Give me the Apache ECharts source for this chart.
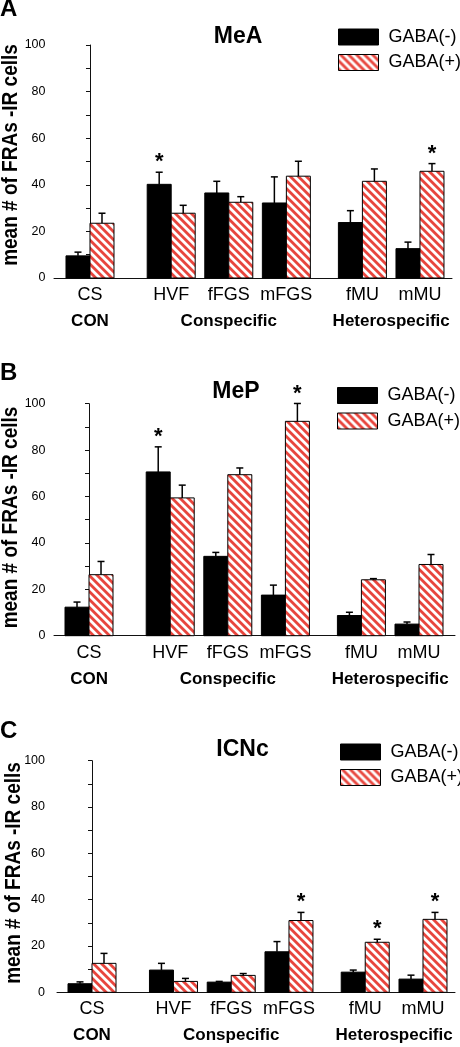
<!DOCTYPE html>
<html><head><meta charset="utf-8">
<script src="https://cdn.jsdelivr.net/npm/echarts@6/dist/echarts.min.js"></script>
<style>html,body{margin:0;padding:0;background:#fff}#c{width:460px;height:1047px}</style>
</head><body><div id="c"></div>
<script>
// ---------- data ----------
const categories = ['CS', 'HVF', 'fFGS', 'mFGS', 'fMU', 'mMU'];
const groupNames = ['CON', 'Conspecific', 'Heterospecific'];
const groupOf = [0, 1, 1, 1, 2, 2];
const seriesNames = ['GABA(-)', 'GABA(+)'];
const panelLetters = ['A', 'B', 'C'];
const panelTitles = ['MeA', 'MeP', 'ICNc'];
const yAxisTitle = 'mean # of FRAs -IR cells';
const yTickValues = [0, 20, 40, 60, 80, 100];

// Panel A: MeA
const meaNeg    = [9.5, 40.2, 36.5, 32.2, 23.8, 12.6];
const meaNegErr = [1.6, 5.2, 5.0, 11.2, 5.1, 2.8];
const meaPos    = [23.5, 27.8, 32.5, 43.7, 41.5, 45.8];
const meaPosErr = [4.3, 3.4, 2.4, 6.4, 5.3, 3.3];
const meaNegSig = [0, 1, 0, 0, 0, 0];
const meaPosSig = [0, 0, 0, 0, 0, 1];

// Panel B: MeP
const mepNeg    = [12.3, 70.6, 34.2, 17.5, 8.7, 5.0];
const mepNegErr = [2.2, 10.8, 1.7, 4.3, 1.4, 0.9];
const mepPos    = [26.3, 59.4, 69.4, 92.4, 24.1, 30.7];
const mepPosErr = [5.7, 5.5, 2.9, 7.7, 0.5, 4.3];
const mepNegSig = [0, 1, 0, 0, 0, 0];
const mepPosSig = [0, 0, 0, 1, 0, 0];

// Panel C: ICNc
const icnNeg    = [3.7, 9.6, 4.4, 17.5, 8.7, 5.7];
const icnNegErr = [0.8, 2.9, 0.3, 4.4, 0.9, 1.7];
const icnPos    = [12.5, 4.7, 7.3, 31.0, 21.6, 31.5];
const icnPosErr = [4.3, 1.3, 0.8, 3.5, 1.3, 3.0];
const icnNegSig = [0, 0, 0, 0, 0, 0];
const icnPosSig = [0, 0, 0, 1, 1, 1];

// ---------- layout ----------
const groupGap = [1.41, 1.32];
const FONT = "'Liberation Sans', Arial, sans-serif";
const RED = '#e8463e';
const panelLayout = [
  {left: 54, top: 45, width: 398, height: 233, xmin: -0.625, xmax: 6.286, labelMargin: 8.5,
   legendLeft: 338, legendTop: 28, titleX: 238, titleY: 36.3, letterY: 9, yTitleX: 10.5, yTitleY: 155},
  {left: 54, top: 403.7, width: 401, height: 232, xmin: -0.608, xmax: 6.355, labelMargin: 8.5,
   legendLeft: 337, legendTop: 386.5, titleX: 236, titleY: 391.7, letterY: 373.5, yTitleX: 10.5, yTitleY: 517.5},
  {left: 57, top: 760.7, width: 398, height: 231.6, xmin: -0.606, xmax: 6.284, labelMargin: 12,
   legendLeft: 340, legendTop: 743, titleX: 242.5, titleY: 750, letterY: 731, yTitleX: 13.5, yTitleY: 873}
];

const positions = [];
(function () {
  let x = 0;
  for (let i = 0; i < categories.length; i++) {
    if (i > 0) x += groupOf[i] !== groupOf[i - 1] ? groupGap[groupOf[i] - 1] : 1;
    positions.push(x);
  }
})();
const groupCenters = groupNames.map((g, gi) => {
  const p = positions.filter((_, i) => groupOf[i] === gi);
  return p.reduce((a, b) => a + b, 0) / p.length;
});
function lookup(vals, names, v) {
  for (let i = 0; i < vals.length; i++) if (Math.abs(vals[i] - v) < 1e-6) return names[i];
  return '';
}

// hatch pattern
function makeHatch() {
  const P = 8, S = 4;
  const c = document.createElement('canvas');
  c.width = P; c.height = P;
  const ctx = c.getContext('2d');
  const img = ctx.createImageData(P, P);
  const r = parseInt(RED.slice(1, 3), 16), g = parseInt(RED.slice(3, 5), 16), b = parseInt(RED.slice(5, 7), 16);
  for (let y = 0; y < P; y++) for (let x = 0; x < P; x++) {
    let cov = 0;
    for (let sy = 0; sy < S; sy++) for (let sx = 0; sx < S; sx++) {
      const px = x + (sx + 0.5) / S, py = y + (sy + 0.5) / S;
      const d = (((px - py) % P) + P) % P;
      if (d < P / 2) cov++;
    }
    cov /= S * S;
    const k = (y * P + x) * 4;
    img.data[k] = Math.round(255 + (r - 255) * cov);
    img.data[k + 1] = Math.round(255 + (g - 255) * cov);
    img.data[k + 2] = Math.round(255 + (b - 255) * cov);
    img.data[k + 3] = 255;
  }
  ctx.putImageData(img, 0, 0);
  return c;
}
const hatch = {image: makeHatch(), repeat: 'repeat'};

const BW = 24;
function makeRender(side, fill) {
  return function (params, api) {
    const x = api.value(0), v = api.value(1), e = api.value(2), sig = api.value(3);
    const base = api.coord([x, 0]);
    const top = api.coord([x, v]);
    const etop = api.coord([x, v + e]);
    const x0 = side < 0 ? base[0] - BW : base[0];
    const cx = x0 + BW / 2;
    const children = [
      {type: 'rect', shape: {x: x0, y: top[1], width: BW, height: base[1] - top[1]},
       style: {fill: fill, stroke: '#000', lineWidth: 1}},
      {type: 'line', shape: {x1: cx, y1: top[1], x2: cx, y2: etop[1]}, style: {stroke: '#000', lineWidth: 1.5}},
      {type: 'line', shape: {x1: cx - 3.5, y1: etop[1], x2: cx + 3.5, y2: etop[1]}, style: {stroke: '#000', lineWidth: 1.5}}
    ];
    if (sig) children.push({type: 'text', style: {text: '*', x: cx, y: etop[1] - 10, align: 'center', verticalAlign: 'middle',
      font: 'bold 22px ' + FONT, fill: '#000'}});
    return {type: 'group', children: children};
  };
}

const panels = [
  [meaNeg, meaNegErr, meaNegSig, meaPos, meaPosErr, meaPosSig],
  [mepNeg, mepNegErr, mepNegSig, mepPos, mepPosErr, mepPosSig],
  [icnNeg, icnNegErr, icnNegSig, icnPos, icnPosErr, icnPosSig]
];

const grid = [], xAxis = [], yAxis = [], series = [], legend = [], graphic = [];
panels.forEach((pd, p) => {
  const L = panelLayout[p];
  grid.push({left: L.left, top: L.top, width: L.width, height: L.height, containLabel: false, outerBoundsMode: 'none'});
  xAxis.push({
    type: 'value', gridIndex: p, min: L.xmin, max: L.xmax, position: 'bottom',
    axisLine: {show: true, onZero: false, lineStyle: {color: '#111', width: 1}},
    axisTick: {show: false}, splitLine: {show: false},
    axisLabel: {customValues: positions, formatter: v => lookup(positions, categories, v),
      fontSize: 18, fontFamily: FONT, color: '#000', margin: 8, showMinLabel: true, showMaxLabel: true}
  });
  xAxis.push({
    type: 'value', gridIndex: p, min: L.xmin, max: L.xmax, position: 'bottom',
    axisLine: {show: false}, axisTick: {show: false}, splitLine: {show: false},
    axisLabel: {customValues: groupCenters, formatter: v => lookup(groupCenters, groupNames, v),
      fontSize: 17, fontWeight: 'bold', fontFamily: FONT, color: '#000', margin: 35}
  });
  yAxis.push({
    type: 'value', gridIndex: p, min: 0, max: 100, interval: 10,
    axisLine: {show: true, lineStyle: {color: '#111', width: 1}},
    axisTick: {show: true, length: 4, lineStyle: {color: '#111'}},
    splitLine: {show: false},
    axisLabel: {formatter: v => (yTickValues.indexOf(v) >= 0 ? String(v) : ''), fontSize: 12.5, fontFamily: FONT, color: '#000', margin: L.labelMargin}
  });
  const mk = (vals, errs, sigs) => vals.map((v, i) => [positions[i], v, errs[i], sigs[i]]);
  series.push({
    type: 'custom', name: seriesNames[0], xAxisIndex: 2 * p, yAxisIndex: p,
    itemStyle: {color: '#000', borderColor: '#000', borderWidth: 1},
    encode: {x: 0, y: 1}, renderItem: makeRender(-1, '#000'), data: mk(pd[0], pd[1], pd[2]), silent: true, clip: false
  });
  series.push({
    type: 'custom', name: seriesNames[1], xAxisIndex: 2 * p, yAxisIndex: p,
    itemStyle: {color: hatch, borderColor: '#000', borderWidth: 1},
    encode: {x: 0, y: 1}, renderItem: makeRender(1, hatch), data: mk(pd[3], pd[4], pd[5]), silent: true, clip: false
  });
  legend.push({
    orient: 'vertical', left: L.legendLeft, top: L.legendTop, padding: 0, itemGap: 7.5,
    itemWidth: 40, itemHeight: 16, icon: 'rect', selectedMode: false,
    formatter: n => ' ' + n,
    textStyle: {fontSize: 18, fontFamily: FONT, color: '#000'},
    data: [
      {name: seriesNames[0], itemStyle: {color: '#000', borderColor: '#000', borderWidth: 1}},
      {name: seriesNames[1], itemStyle: {color: hatch, borderColor: '#000', borderWidth: 1}}
    ]
  });
  graphic.push({type: 'text', x: L.titleX, y: L.titleY,
    style: {text: panelTitles[p], align: 'center', verticalAlign: 'middle', font: 'bold 23px ' + FONT, fill: '#000'}});
  graphic.push({type: 'text', x: 0, y: L.letterY,
    style: {text: panelLetters[p], align: 'left', verticalAlign: 'middle', font: 'bold 24px ' + FONT, fill: '#000'}});
  graphic.push({type: 'text', x: L.yTitleX, y: L.yTitleY, rotation: Math.PI / 2, scaleY: 1.15,
    style: {text: yAxisTitle, x: 0, y: 0, align: 'center', verticalAlign: 'middle', font: 'bold 19px ' + FONT, fill: '#000'}});
});

const chart = echarts.init(document.getElementById('c'), null, {renderer: 'canvas'});
chart.setOption({
  animation: false,
  backgroundColor: '#fff',
  grid: grid, xAxis: xAxis, yAxis: yAxis, series: series, legend: legend,
  graphic: {elements: graphic}
});
</script></body></html>
